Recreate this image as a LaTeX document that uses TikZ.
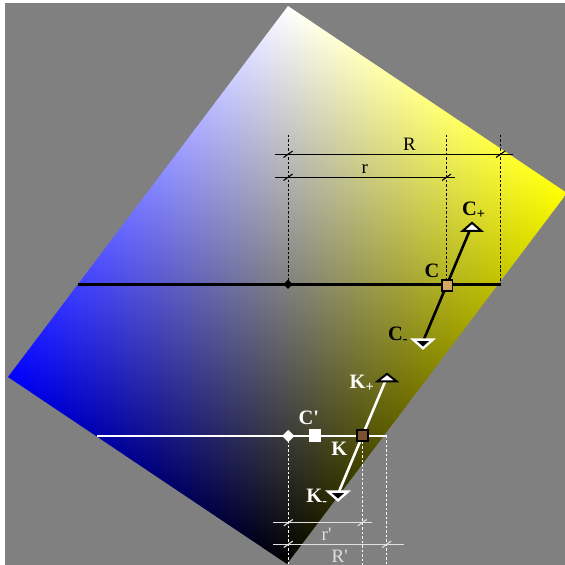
\documentclass[tikz,border=0pt]{standalone}
\usepackage{fontspec}
\setmainfont{Liberation Serif}
\newfontfamily\labfont{Liberation Serif}
\usetikzlibrary{shapes.geometric}
\pgfdeclarefunctionalshading{gamut}{\pgfpointorigin}{\pgfpoint{565bp}{565bp}}{}{
559 exch sub exch 288 sub exch
2 copy 280 mul exch 371 mul add 155498 div
3 1 roll
278 mul exch 187 mul sub 155498 div
1 exch sub dup
3 -1 roll
1 exch sub
}
\definecolor{bg}{RGB}{128,128,128}
\definecolor{ctan}{RGB}{212,166,100}
\definecolor{kbrown}{RGB}{122,82,48}
\definecolor{dimw}{RGB}{225,225,225}
\begin{document}
\begin{tikzpicture}[x=1bp,y=-1bp,
  lab/.style={font=\labfont\fontsize{20.5}{21}\selectfont\bfseries, inner sep=0, anchor=base west},
  dimlab/.style={font=\labfont\fontsize{19}{19}\selectfont, inner sep=0, anchor=base west},
  dotv/.style={line width=1, dash pattern=on 2.5 off 2},
  dimline/.style={line width=1.1},
  tick/.style={line width=1.1},
  sq/.style={rectangle, inner sep=0, minimum size=10.6, line width=1.8},
  lineseg/.style={line width=2.6}]
\useasboundingbox (0,0) rectangle (565,565);
\fill[white] (0,0) rectangle (565,565);
\fill[bg] (5,3) rectangle (565,565);
\begin{scope}
  \clip (288,6) -- (567,193) -- (287,564) -- (8,377) -- cycle;
  \node[inner sep=0, outer sep=0, anchor=south west] (sh) at (0,565) {\pgfuseshading{gamut}};
\end{scope}

% ---------- upper (black) construction ----------
\coordinate (A1) at (78,284.3);
\coordinate (A2) at (500.5,284.3);
\draw[line width=2.8] (A1) -- (A2);
\node[diamond, fill=black, inner sep=0, minimum size=9.5] (D1) at (288,284.3) {};
% dotted verticals
\coordinate (V1t) at (288,135);
\coordinate (V2t) at (446.5,135);
\coordinate (V2b) at (446.5,280);
\coordinate (V3t) at (500.5,135);
\draw[dotv] (V1t) -- (D1.center);
\draw[dotv] (V2t) -- (V2b);
\draw[dotv] (V3t) -- (A2);
% dimension lines
\coordinate (R1) at (275,154.3); \coordinate (R2) at (513,154.3);
\coordinate (r1) at (275,177.3); \coordinate (r2) at (455,177.3);
\draw[dimline] (R1) -- (R2);
\draw[dimline] (r1) -- (r2);
\foreach \x/\y in {288/154.3, 500.5/154.3, 288/177.3, 446.5/177.3}
  \draw[tick] (\x-4.5,\y+3.2) -- (\x+4.5,\y-3.2);
\node[dimlab] (Rl) at (403,150.6) {R};
\node[dimlab] (rl) at (361.5,173.4) {r};

% C segment
\coordinate (Cm) at (422.8,342);
\coordinate (Cp) at (472,225);
\draw[lineseg, black] (Cm) -- (Cp);
\draw[line width=2, black, fill=white, miter limit=4] (472,222.8) -- (481.2,230.8) -- (462.8,230.8) -- cycle;
\draw[line width=2.4, white, fill=black] (413.2,339.6) -- (432.8,339.6) -- (423,348.3) -- cycle;
\node[sq, draw=black, fill=ctan] (C) at (447.2,285.6) {};
\node[lab, text=black] (Cpl) at (461.8,215) {C\textsubscript{+}};
\node[lab, text=black] (Cl) at (424.5,277.7) {C};
\node[lab, text=black] (Cml) at (387.8,340) {C\textsubscript{-}};

% ---------- lower (white) construction ----------
\coordinate (B1) at (97,436);
\coordinate (B2) at (386.7,436);
\draw[line width=2.8, white] (B1) -- (B2);
\node[diamond, fill=white, inner sep=0, minimum size=12.5] (D2) at (288.3,436) {};
\node[rectangle, fill=white, inner sep=0, minimum size=13] (Cq) at (315,435.8) {};
% dotted verticals
\coordinate (W1b) at (288.3,566);
\coordinate (W2t) at (362.2,442);
\coordinate (W2b) at (362.2,566);
\coordinate (W3b) at (386.7,566);
\draw[dotv, white] (D2.center) -- (W1b);
\draw[dotv, white] (W2t) -- (W2b);
\draw[dotv, white] (B2) -- (W3b);
% dimension lines
\coordinate (s1) at (273,522.7); \coordinate (s2) at (371.7,522.7);
\coordinate (S1) at (273,544.3); \coordinate (S2) at (404,544.3);
\draw[dimline, dimw] (s1) -- (s2);
\draw[dimline, dimw] (S1) -- (S2);
\foreach \x/\y in {288.3/522.7, 362.2/522.7, 288.3/544.3, 386.7/544.3}
  \draw[tick, dimw] (\x-4.5,\y+3.2) -- (\x+4.5,\y-3.2);
\node[dimlab, text=dimw] (rpl) at (321.5,540) {r'};
\node[dimlab, text=dimw] (Rpl) at (331.5,562.3) {R'};

% K segment
\coordinate (Km) at (338,494);
\coordinate (Kp) at (387,377);
\draw[lineseg, white] (Km) -- (Kp);
\draw[line width=2, black, fill=white, miter limit=4] (387,373.8) -- (396.5,381.3) -- (377.5,381.3) -- cycle;
\draw[line width=2.4, white, fill=black] (328.2,491.6) -- (347.8,491.6) -- (338,500.3) -- cycle;
\node[sq, draw=black, fill=kbrown, minimum size=11.2] (K) at (362.2,435.8) {};
\node[lab, text=white] (Kpl) at (349.5,388.3) {K\textsubscript{+}};
\node[lab, text=white] (Cql) at (298.5,424.3) {C'};
\node[lab, text=white] (Kl) at (331.2,455.7) {K};
\node[lab, text=white] (Kml) at (306.2,502.3) {K\textsubscript{-}};
\end{tikzpicture}
\end{document}
